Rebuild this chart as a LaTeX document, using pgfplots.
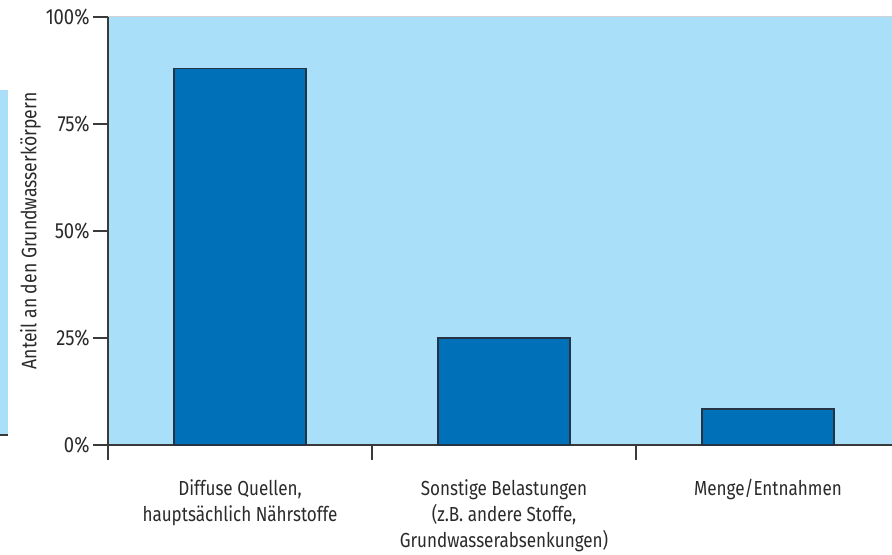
\documentclass[border=0pt]{standalone}
\usepackage{fontspec}
\setmainfont{Fira Sans}[FakeStretch=0.84]
\usepackage{pgfplots}
\pgfplotsset{compat=1.18}
\definecolor{bg}{HTML}{A9DFF9}
\definecolor{barc}{HTML}{0070B9}
\definecolor{edge}{HTML}{253445}
\definecolor{ax}{HTML}{3A3A3A}
\definecolor{txt}{HTML}{2A2A2A}
\begin{document}
\begin{tikzpicture}
\useasboundingbox (-108bp,-110bp) rectangle (784bp,445bp);
\fill[bg] (-108bp,10bp) rectangle (-100bp,355bp);
\draw[ax, line width=1.5bp] (-108bp,10bp) -- (-100bp,10bp);
\begin{axis}[
  at={(0,0)}, anchor=south west,
  width=784bp, height=428bp, scale only axis,
  xmin=-0.5, xmax=2.4697, ymin=0, ymax=100,
  axis x line*=bottom, axis y line*=left,
  axis background/.style={fill=bg},
  axis line style={ax, line width=1.5bp},
  ybar, bar width=0.5,
  xtick={0,1,2},
  xticklabels={{Diffuse Quellen,\\hauptsächlich Nährstoffe},{Sonstige Belastungen\\(z.B. andere Stoffe,\\Grundwasserabsenkungen)},{Menge/Entnahmen}},
  minor xtick={-0.5,0.5,1.5},
  major x tick style={draw=none},
  tick align=outside, major tick length=15bp, minor tick length=15bp,
  tick style={ax, line width=1.5bp},
  ytick={0,25,50,75,100},
  yticklabels={0\%,25\%,50\%,75\%,100\%},
  yticklabel style={font=\fontsize{22}{24}\selectfont, text=txt},
  xticklabel style={align=center, anchor=north, yshift=-16bp, font=\fontsize{20.4}{26}\selectfont, text=txt},
  ylabel={Anteil an den Grundwasserkörpern},
  every axis y label/.style={at={(axis description cs:-0.0855,0.5)}, rotate=90, anchor=south, inner sep=0pt, font=\fontsize{21}{24}\selectfont, text=txt},
  clip=false,
]
\addplot[fill=barc, draw=edge, line width=1.2bp] coordinates {(0,88) (1,25) (2,8.4)};
\draw[gray!35, line width=1bp] (rel axis cs:0,1) -- (rel axis cs:1,1);
\end{axis}
\end{tikzpicture}
\end{document}
